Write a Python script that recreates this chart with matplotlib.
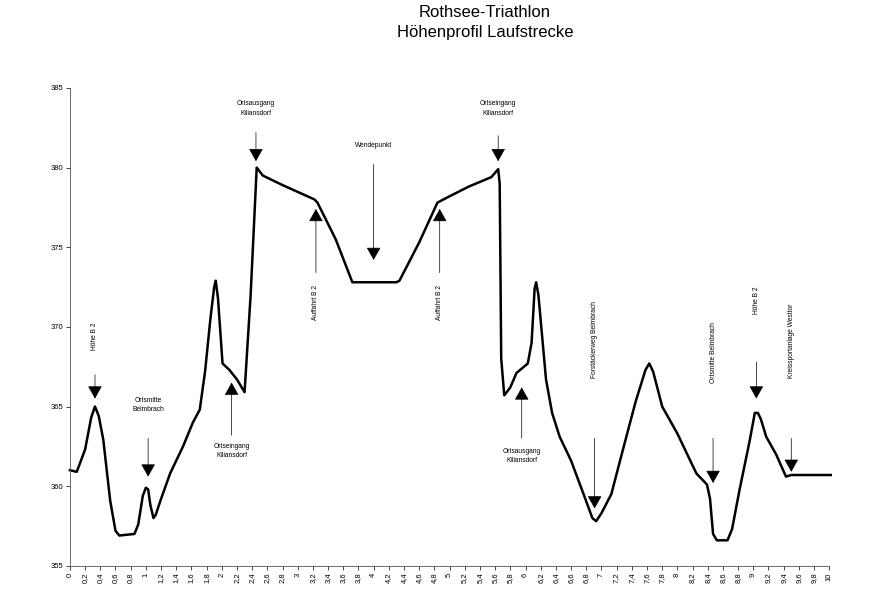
import matplotlib.pyplot as plt

plt.rcParams['font.family'] = ['Liberation Sans', 'DejaVu Sans']

# Höhenprofil (km, m ü. NN)
km = [0.0, 0.09, 0.2, 0.28, 0.33, 0.38, 0.44, 0.53, 0.6, 0.65, 0.85, 0.9, 0.96, 1.0, 1.03,
      1.06, 1.1, 1.13, 1.2, 1.32, 1.49, 1.62, 1.71, 1.78, 1.85, 1.9, 1.92, 1.95, 2.01, 2.1, 2.2,
      2.3, 2.38, 2.46, 2.54, 2.8, 3.22, 3.26, 3.5, 3.72, 3.76, 4.3, 4.34, 4.6, 4.84, 4.96,
      5.25, 5.55, 5.64, 5.66, 5.68, 5.72, 5.8, 5.88, 6.03, 6.08, 6.12, 6.14, 6.17, 6.27, 6.35,
      6.45, 6.6, 6.78, 6.88, 6.93, 7.0, 7.13, 7.3, 7.45, 7.58, 7.63, 7.68, 7.8, 8.0, 8.25,
      8.39, 8.43, 8.47, 8.52, 8.66, 8.72, 8.82, 8.95, 9.02, 9.06, 9.1, 9.17, 9.3, 9.43, 9.5, 10.02]
hoehe = [361.0, 360.9, 362.3, 364.3, 365.0, 364.4, 362.9, 359.1, 357.2, 356.9, 357.0, 357.6,
         359.4, 359.9, 359.8, 358.8, 358.0, 358.2, 359.2, 360.8, 362.5, 364.0, 364.8, 367.2,
         370.5, 372.5, 372.9, 371.8, 367.7, 367.3, 366.7, 365.9, 372.0, 380.0, 379.5, 378.9,
         378.0, 377.8, 375.5, 372.8, 372.8, 372.8, 372.9, 375.3, 377.8, 378.1, 378.8, 379.4,
         379.9, 379.0, 368.0, 365.7, 366.2, 367.1, 367.7, 369.0, 372.4, 372.8, 372.0, 366.7,
         364.6, 363.1, 361.6, 359.3, 358.0, 357.8, 358.3, 359.5, 362.6, 365.3, 367.3, 367.7,
         367.2, 365.0, 363.3, 360.8, 360.1, 359.2, 357.0, 356.6, 356.6, 357.3, 359.8, 362.8,
         364.6, 364.6, 364.2, 363.1, 362.0, 360.6, 360.7, 360.7]

# Beschriftungen: Text, km, Textposition, Pfeilanfang, Pfeilspitze, Drehung
labels = ["Höhe B 2", "Ortsmitte\nBelmbrach", "Ortseingang\nKiliansdorf",
          "Ortsausgang\nKiliansdorf", "Auffahrt B 2", "Wendepunkt", "Auffahrt B 2",
          "Ortseingang\nKiliansdorf", "Ortsausgang\nKiliansdorf", "Forstäckerweg Belmbrach",
          "Ortsmitte Belmbrach", "Höhe B 2", "Kreissportanlage Westtor"]
label_km = [0.33, 1.03, 2.13, 2.45, 3.24, 4.0, 4.87, 5.64, 5.95, 6.91, 8.47, 9.04, 9.5]
label_y = [369.4, 365.1, 362.2, 383.7, 371.5, 381.4, 371.5, 383.7, 361.9, 369.2, 368.4, 371.7, 369.1]
arrow_from = [367.0, 363.0, 363.2, 382.2, 373.4, 380.2, 373.4, 382.0, 363.0, 363.0, 363.0, 367.8, 363.0]
arrow_to = [365.5, 360.6, 366.5, 380.4, 377.4, 374.2, 377.4, 380.4, 366.2, 358.6, 360.2, 365.5, 360.9]
label_rot = [90, 0, 0, 0, 90, 0, 90, 0, 0, 90, 90, 90, 90]

xticks = [i / 5 for i in range(51)]
xticklabels = [("%g" % t).replace(".", ",") for t in xticks]

fig = plt.figure(figsize=(8.85, 5.9), dpi=100)
ax = fig.add_axes([0.079, 0.041, 0.858, 0.81])

ax.plot(km, hoehe, color="black", lw=1.8, solid_joinstyle="round", clip_on=False)

for txt, x, ty, y0, y1, rot in zip(labels, label_km, label_y, arrow_from, arrow_to, label_rot):
    ax.text(x, ty, txt, rotation=rot, ha="center", va="center", fontsize=4.8, linespacing=1.5)
    ax.annotate("", xy=(x, y1), xytext=(x, y0),
                arrowprops=dict(arrowstyle="-|>,head_length=0.8,head_width=0.45",
                                color="black", lw=0.5, mutation_scale=10,
                                shrinkA=0, shrinkB=0))

ax.set_xlim(0, 10)
ax.set_ylim(355, 385)
ax.set_yticks([355, 360, 365, 370, 375, 380, 385])
ax.set_xticks(xticks)
ax.set_xticklabels(xticklabels, rotation=90)
ax.tick_params(labelsize=5.5, length=3, width=0.5, pad=2)
for s in ["top", "right"]:
    ax.spines[s].set_visible(False)
for s in ["left", "bottom"]:
    ax.spines[s].set_linewidth(0.6)
    ax.spines[s].set_color("#555555")

fig.text(0.548, 0.978, "Rothsee-Triathlon", ha="center", va="center", fontsize=12)
fig.text(0.548, 0.945, "Höhenprofil Laufstrecke", ha="center", va="center", fontsize=12)

fig.savefig("out.png", dpi=100)
